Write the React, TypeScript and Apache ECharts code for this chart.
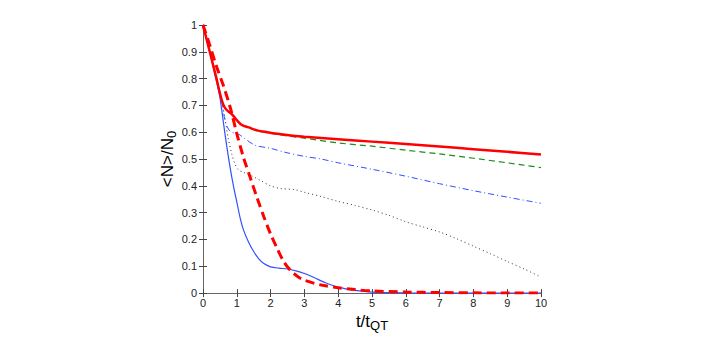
import React, { useEffect, useRef } from "react";
import * as echarts from "echarts";

const xTicks = [0, 1, 2, 3, 4, 5, 6, 7, 8, 9, 10];
const yTicks = [0, 0.1, 0.2, 0.3, 0.4, 0.5, 0.6, 0.7, 0.8, 0.9, 1];

// red thick solid
const redSolid: [number, number][] = [
  [0, 1], [0.2, 0.9], [0.4, 0.8], [0.5, 0.745], [0.6, 0.703], [0.7, 0.683], [0.85, 0.668],
  [1.0, 0.645], [1.15, 0.627], [1.35, 0.618], [1.6, 0.607], [1.9, 0.6], [2.2, 0.594],
  [2.6, 0.588], [3, 0.583], [4, 0.574], [5, 0.565], [6, 0.556], [7, 0.547], [8, 0.537],
  [9, 0.527], [10, 0.517],
];
// green dashed
const greenDashed: [number, number][] = [
  [0, 1], [0.2, 0.9], [0.4, 0.8], [0.5, 0.745], [0.6, 0.703], [0.7, 0.683], [0.85, 0.668],
  [1.0, 0.645], [1.15, 0.627], [1.35, 0.617], [1.6, 0.605], [1.9, 0.598], [2.2, 0.592],
  [2.6, 0.584], [3, 0.578], [4, 0.56], [5, 0.548], [6, 0.533], [7, 0.519], [8, 0.503],
  [9, 0.486], [10, 0.468],
];
// blue dash-dot
const blueDashDot: [number, number][] = [
  [0, 1], [0.2, 0.9], [0.4, 0.8], [0.55, 0.72], [0.65, 0.645], [0.75, 0.612], [0.85, 0.6],
  [1.05, 0.593], [1.25, 0.575], [1.55, 0.551], [2.0, 0.54], [2.4, 0.526], [3, 0.51],
  [3.5, 0.5], [4, 0.486], [5, 0.462], [6, 0.436], [7, 0.408], [8, 0.382], [9, 0.358],
  [10, 0.335],
];
// black dotted
const blackDotted: [number, number][] = [
  [0, 1], [0.2, 0.9], [0.4, 0.8], [0.55, 0.72], [0.65, 0.65], [0.75, 0.575], [0.85, 0.52],
  [0.95, 0.48], [1.05, 0.46], [1.2, 0.45], [1.4, 0.44], [1.7, 0.42], [2.0, 0.4],
  [2.3, 0.39], [2.7, 0.386], [3, 0.376], [3.5, 0.36], [4, 0.342], [4.5, 0.327], [5, 0.31],
  [5.5, 0.29], [6, 0.266], [6.5, 0.247], [7, 0.228], [7.5, 0.203], [8, 0.175],
  [8.5, 0.147], [9, 0.118], [9.5, 0.09], [10, 0.06],
];
// blue solid thin
const blueSolid: [number, number][] = [
  [0, 1], [0.2, 0.9], [0.4, 0.79], [0.5, 0.73], [0.6, 0.64], [0.7, 0.55], [0.8, 0.47],
  [0.9, 0.4], [1.0, 0.34], [1.1, 0.28], [1.2, 0.235], [1.35, 0.19], [1.5, 0.155],
  [1.65, 0.128], [1.8, 0.11], [2.0, 0.098], [2.25, 0.093], [2.5, 0.09], [2.75, 0.083],
  [3, 0.073], [3.3, 0.057], [3.6, 0.04], [4, 0.022], [4.5, 0.01], [5, 0.004], [6, 0.001],
  [7, 0], [8, 0], [9, 0], [10, 0],
];
// red thick dashed
const redDashed: [number, number][] = [
  [0, 1], [0.2, 0.925], [0.4, 0.845], [0.6, 0.775], [0.8, 0.695], [1.0, 0.595],
  [1.2, 0.505], [1.4, 0.43], [1.6, 0.355], [1.8, 0.285], [2.0, 0.22], [2.2, 0.165],
  [2.4, 0.115], [2.6, 0.083], [2.8, 0.062], [3, 0.048], [3.5, 0.03], [4, 0.02],
  [4.5, 0.013], [5, 0.008], [6, 0.004], [7, 0.002], [8, 0.001], [9, 0], [10, 0],
];

const FONT = "'Liberation Sans', Arial, Helvetica, sans-serif";

export default function App() {
  const ref = useRef<HTMLDivElement>(null);
  useEffect(() => {
    if (!ref.current) return;
    const chart = echarts.init(ref.current, undefined, { renderer: "svg" });
    const axisCommon = {
      min: 0,
      axisTick: { inside: true, length: 4, lineStyle: { color: "#444" } },
      splitLine: { show: false },
    };
    const line = (data: [number, number][], color: string, width: number, type: any, z: number) => ({
      type: "line",
      data,
      showSymbol: false,
      smooth: 0.3,
      z,
      lineStyle: { color, width, type, cap: "butt" },
      xAxisIndex: 0,
      yAxisIndex: 0,
    });
    chart.setOption({
      animation: false,
      backgroundColor: "#ffffff",
      grid: { left: 203, top: 25, width: 338, height: 274, containLabel: false },
      xAxis: [
        {
          ...axisCommon,
          type: "value",
          max: 10,
          interval: 1,
          position: "bottom",
          axisLine: { lineStyle: { color: "#000", width: 1 } },
          axisLabel: { color: "#222", fontSize: 11, fontFamily: FONT, margin: 4 },
          name: "t/t{s|QT}",
          nameLocation: "middle",
          nameGap: 12,
          nameTextStyle: {
            color: "#000",
            fontSize: 17,
            fontFamily: FONT,
            rich: {
              s: { fontSize: 13, fontFamily: FONT, color: "#000", padding: [8, 0, 0, 0] },
            },
          },
        },
        {
          ...axisCommon,
          type: "value",
          max: 10,
          interval: 1,
          position: "top",
          axisLine: { lineStyle: { color: "#666", width: 1 } },
          axisLabel: { show: false },
        },
      ],
      yAxis: [
        {
          ...axisCommon,
          type: "value",
          max: 1,
          interval: 0.1,
          position: "left",
          axisLine: { show: true, lineStyle: { color: "#666", width: 1 } },
          axisLabel: {
            color: "#222",
            fontSize: 11,
            fontFamily: FONT,
            margin: 6,
            formatter: (v: number) => String(Math.round(v * 10) / 10),
          },
          name: "<N>/N{s|0}",
          nameLocation: "middle",
          nameGap: 24,
          nameRotate: 90,
          nameTextStyle: {
            color: "#000",
            fontSize: 17,
            fontFamily: FONT,
            rich: {
              s: { fontSize: 13, fontFamily: FONT, color: "#000", padding: [8, 0, 0, 0] },
            },
          },
        },
        {
          ...axisCommon,
          type: "value",
          max: 1,
          interval: 0.1,
          position: "right",
          axisLine: { show: true, lineStyle: { color: "#666", width: 1 } },
          axisLabel: { show: false },
        },
      ],
      series: [
        line(blackDotted, "#333333", 1, [1, 3], 2),
        line(blueDashDot, "#3050ff", 1, [6, 3, 1, 3], 3),
        line(blueSolid, "#3050ff", 1.2, "solid", 4),
        line(greenDashed, "#1a8c1a", 1.2, [6, 4], 5),
        line(redDashed, "#ff0000", 3, [9, 5], 6),
        line(redSolid, "#ff0000", 2.5, "solid", 7),
      ],
    });
    return () => chart.dispose();
  }, []);
  return <div ref={ref} style={{ width: 706, height: 337, position: "absolute", left: 0, top: 0 }} />;
}
